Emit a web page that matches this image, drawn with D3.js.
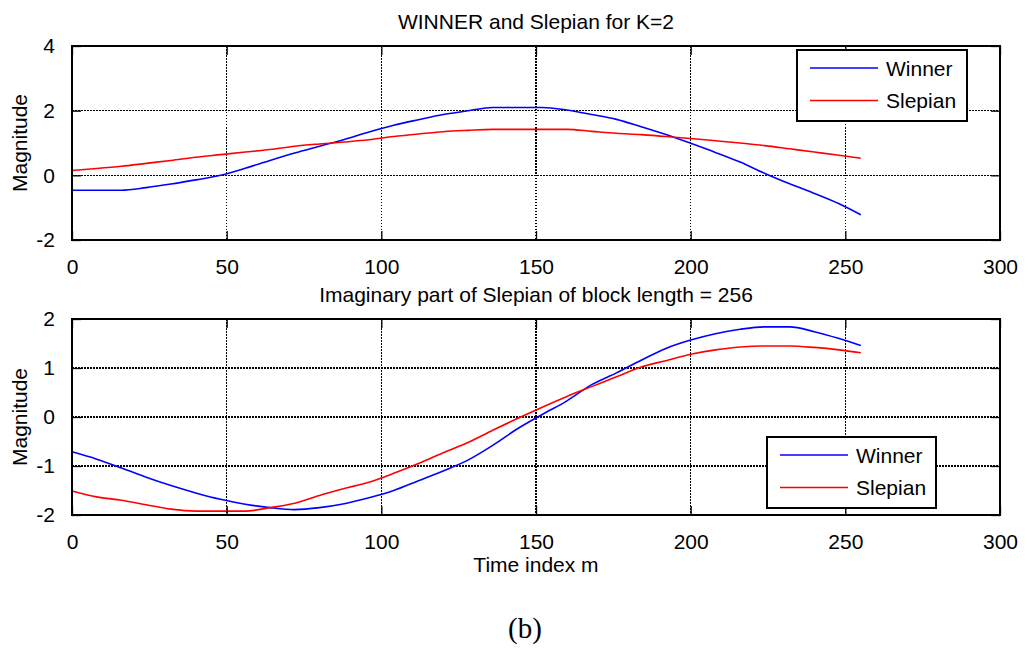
<!DOCTYPE html>
<html>
<head>
<meta charset="utf-8">
<script src="https://cdn.jsdelivr.net/npm/d3@7"></script>
<style>
  html, body { margin: 0; padding: 0; background: #fff; }
  svg { display: block; }
</style>
</head>
<body>
<svg id="chart" width="1030" height="652"></svg>
<script>
// Sample index m (block length 256)
const timeIndex = [0,8,16,24,32,40,48,56,64,72,80,88,96,104,112,120,128,136,144,152,160,168,176,184,192,200,208,216,224,232,240,248,255];

// Upper panel: WINNER and Slepian, K = 2
const winnerK2 = [-0.46,-0.46,-0.46,-0.38,-0.27,-0.14,0.0,0.22,0.46,0.69,0.9,1.11,1.34,1.55,1.72,1.88,2.0,2.1,2.1,2.1,2.02,1.88,1.73,1.5,1.26,0.99,0.71,0.41,0.06,-0.26,-0.56,-0.88,-1.22];
const slepianK2 = [0.15,0.21,0.28,0.37,0.46,0.56,0.64,0.72,0.8,0.9,0.97,1.03,1.1,1.2,1.28,1.35,1.39,1.42,1.42,1.42,1.42,1.36,1.3,1.26,1.2,1.14,1.07,1.0,0.92,0.82,0.72,0.62,0.53];

// Lower panel: imaginary part, block length 256
const winnerImag = [-0.71,-0.86,-1.04,-1.23,-1.4,-1.55,-1.68,-1.78,-1.85,-1.89,-1.85,-1.77,-1.65,-1.5,-1.3,-1.1,-0.88,-0.58,-0.24,0.05,0.33,0.66,0.9,1.16,1.4,1.57,1.7,1.79,1.84,1.84,1.74,1.6,1.46];
const slepianImag = [-1.51,-1.63,-1.7,-1.79,-1.88,-1.92,-1.92,-1.92,-1.85,-1.76,-1.6,-1.46,-1.33,-1.15,-0.95,-0.73,-0.52,-0.27,-0.03,0.2,0.42,0.62,0.82,1.02,1.15,1.28,1.37,1.43,1.45,1.45,1.42,1.37,1.31];

const seriesNames = ["Winner", "Slepian"];
const seriesColors = ["#0000ff", "#ff0000"];

const xTicks = [0,50,100,150,200,250,300];
const yTicksTop = [-2,0,2,4];
const yTicksBottom = [-2,-1,0,1,2];

const titleTop = "WINNER and Slepian for K=2";
const titleBottom = "Imaginary part of Slepian of block length = 256";
const yLabel = "Magnitude";
const xLabel = "Time index m";
const caption = "(b)";

const svg = d3.select("#chart");
const FONT = 21;
const SANS = '"Liberation Sans", Arial, sans-serif';
const SERIF = '"Liberation Serif", "Times New Roman", serif';
const plain = d => String(d);

function panel(cfg) {
  const { left, right, top, bottom, yDomain, yTicks, series, title, legend } = cfg;
  const x = d3.scaleLinear().domain([0, 300]).range([left, right]);
  const y = d3.scaleLinear().domain(yDomain).range([bottom, top]);
  const g = svg.append("g");

  // grid (dotted)
  const grid = g.append("g").attr("stroke", "#000").attr("stroke-width", 1.2)
    .attr("stroke-dasharray", "1.5,1.5").attr("shape-rendering", "crispEdges");
  xTicks.slice(1, -1).forEach(t => {
    grid.append("line").attr("x1", x(t)).attr("x2", x(t)).attr("y1", top).attr("y2", bottom);
  });
  yTicks.slice(1, -1).forEach(t => {
    grid.append("line").attr("x1", left).attr("x2", right).attr("y1", y(t)).attr("y2", y(t));
  });

  // data lines
  const line = d3.line().x((d, i) => x(timeIndex[i])).y(d => y(d)).curve(d3.curveMonotoneX);
  series.forEach((s, i) => {
    g.append("path").datum(s).attr("fill", "none").attr("stroke", seriesColors[i])
      .attr("stroke-width", 1.6).attr("d", line);
  });

  // axes: ticks inside, mirrored on all sides
  const tl = 9;
  const bottomAxis = d3.axisBottom(x).tickValues(xTicks).tickSize(-tl).tickPadding(tl + 10).tickFormat(plain);
  const topAxis = d3.axisTop(x).tickValues(xTicks).tickSize(-tl).tickFormat("");
  const leftAxis = d3.axisLeft(y).tickValues(yTicks).tickSize(-tl).tickPadding(tl + 8).tickFormat(plain);
  const rightAxis = d3.axisRight(y).tickValues(yTicks).tickSize(-tl).tickFormat("");

  const styleAxis = sel => {
    sel.select(".domain").remove();
    sel.selectAll(".tick line").attr("stroke", "#000").attr("stroke-width", 1.3);
    sel.selectAll(".tick text").style("font-size", FONT + "px").style("font-family", SANS).attr("fill", "#000");
  };
  g.append("g").attr("transform", `translate(0,${bottom})`).call(bottomAxis).call(styleAxis);
  g.append("g").attr("transform", `translate(0,${top})`).call(topAxis).call(styleAxis);
  g.append("g").attr("transform", `translate(${left},0)`).call(leftAxis).call(styleAxis);
  g.append("g").attr("transform", `translate(${right},0)`).call(rightAxis).call(styleAxis);

  // frame
  g.append("rect").attr("x", left).attr("y", top).attr("width", right - left).attr("height", bottom - top)
    .attr("fill", "none").attr("stroke", "#000").attr("stroke-width", 2);

  // title
  g.append("text").attr("x", (left + right) / 2).attr("y", top - 17).attr("text-anchor", "middle")
    .style("font-family", SANS).style("font-size", FONT + "px").text(title);

  // y label
  g.append("text").attr("transform", `translate(${left - 45},${(top + bottom) / 2}) rotate(-90)`)
    .attr("text-anchor", "middle").style("font-family", SANS).style("font-size", FONT + "px").text(yLabel);

  // legend
  const lg = g.append("g");
  lg.append("rect").attr("x", legend.x).attr("y", legend.y).attr("width", legend.w).attr("height", legend.h)
    .attr("fill", "#fff").attr("stroke", "#000").attr("stroke-width", 2);
  seriesNames.forEach((name, i) => {
    const ly = legend.y + 18 + i * 32.5;
    lg.append("line").attr("x1", legend.x + 13).attr("x2", legend.x + 81).attr("y1", ly).attr("y2", ly)
      .attr("stroke", seriesColors[i]).attr("stroke-width", 1.6);
    lg.append("text").attr("x", legend.x + 89).attr("y", ly).attr("dy", "0.36em")
      .style("font-family", SANS).style("font-size", FONT + "px").text(name);
  });
  return { x, y };
}

panel({
  left: 72, right: 1000, top: 46, bottom: 240,
  yDomain: [-2, 4], yTicks: yTicksTop,
  series: [winnerK2, slepianK2], title: titleTop,
  legend: { x: 797, y: 50, w: 170, h: 71 }
});

panel({
  left: 72, right: 1000, top: 319, bottom: 515,
  yDomain: [-2, 2], yTicks: yTicksBottom,
  series: [winnerImag, slepianImag], title: titleBottom,
  legend: { x: 767, y: 437, w: 169, h: 71 }
});

svg.append("text").attr("x", 536).attr("y", 572).attr("text-anchor", "middle")
  .style("font-family", SANS).style("font-size", FONT + "px").text(xLabel);

svg.append("text").attr("x", 525).attr("y", 638).attr("text-anchor", "middle")
  .style("font-family", SERIF).style("font-size", "29px").text(caption);
</script>
</body>
</html>
